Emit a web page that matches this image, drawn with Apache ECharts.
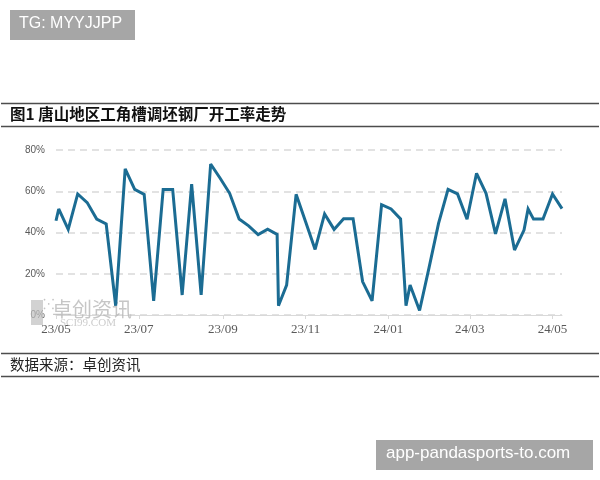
<!DOCTYPE html>
<html>
<head>
<meta charset="utf-8">
<script src="https://cdn.jsdelivr.net/npm/echarts@6/dist/echarts.min.js"></script>
<style>
html,body{margin:0;padding:0;background:#fff;}
#chart{width:600px;height:480px;}
</style>
</head>
<body>
<div id="chart"></div>
<script>
// ---- data ----
const dates = [
  '2023-05-01','2023-05-03','2023-05-10','2023-05-17','2023-05-24','2023-05-31',
  '2023-06-07','2023-06-14','2023-06-21','2023-06-28','2023-07-05','2023-07-12',
  '2023-07-19','2023-07-26','2023-08-02','2023-08-09','2023-08-16','2023-08-23',
  '2023-08-30','2023-09-06','2023-09-13','2023-09-20','2023-09-27','2023-10-04',
  '2023-10-11','2023-10-12','2023-10-18','2023-10-25','2023-11-01','2023-11-08',
  '2023-11-15','2023-11-22','2023-11-29','2023-12-06','2023-12-13','2023-12-20',
  '2023-12-27','2024-01-03','2024-01-10','2024-01-14','2024-01-17','2024-01-24',
  '2024-01-31','2024-02-07','2024-02-14','2024-02-21','2024-02-28','2024-03-06',
  '2024-03-13','2024-03-20','2024-03-27','2024-04-03','2024-04-10','2024-04-13',
  '2024-04-17','2024-04-24','2024-05-01','2024-05-08'
];
const rates = [
  45.7, 51.4, 41.5, 58.7, 54.5, 46.5,
  44.1, 4.5, 70.8, 60.9, 58.5, 6.9,
  60.9, 60.9, 9.7, 63.5, 9.7, 73.2,
  66.3, 59.0, 46.5, 43.2, 39.0, 41.6,
  39.1, 4.5, 14.5, 58.5, 45.2, 31.8,
  49.0, 41.5, 46.7, 46.7, 16.2, 6.9,
  53.5, 51.4, 46.6, 4.5, 14.5, 2.2,
  23.0, 44.4, 60.9, 58.7, 46.4, 68.7,
  59.0, 39.3, 56.3, 31.5, 41.2, 51.4,
  46.5, 46.5, 58.7, 51.6
];
const xTickLabels = ['23/05','23/07','23/09','23/11','24/01','24/03','24/05'];
const yTickValues = [0, 20, 40, 60, 80];

const titleText = '图1 唐山地区工角槽调坯钢厂开工率走势';
const sourceText = '数据来源：卓创资讯';
const badgeText = 'TG: MYYJJPP';
const footerText = 'app-pandasports-to.com';

// ---- build: x is days since the first tick date ----
const DAY = 86400000;
function labelToDate(lbl) {
  const p = lbl.split('/');
  return Date.UTC(2000 + parseInt(p[0], 10), parseInt(p[1], 10) - 1, 1);
}
function strToDate(s) {
  const p = s.split('-');
  return Date.UTC(+p[0], +p[1] - 1, +p[2]);
}
const origin = labelToDate(xTickLabels[0]);
const tickDays = xTickLabels.map(l => Math.round((labelToDate(l) - origin) / DAY));
const labelByDay = {};
tickDays.forEach((d, i) => { labelByDay[d] = xTickLabels[i]; });
const seriesData = dates.map((d, i) => [Math.round((strToDate(d) - origin) / DAY), rates[i]]);

const chart = echarts.init(document.getElementById('chart'), null, {renderer: 'canvas'});
chart.setOption({
  backgroundColor: '#ffffff',
  animation: false,
  grid: {left: 56, right: 38, top: 150, bottom: 165, containLabel: false},
  xAxis: {
    type: 'value',
    min: 0,
    max: seriesData[seriesData.length - 1][0],
    axisLine: {show: true, lineStyle: {color: '#d9d9d9', width: 1}},
    axisTick: {show: true, customValues: tickDays, length: 4, lineStyle: {color: '#d9d9d9'}},
    splitLine: {show: false},
    axisLabel: {
      customValues: tickDays,
      formatter: function (v) { return labelByDay[Math.round(v)] || ''; },
      color: '#595959',
      fontFamily: 'Liberation Serif',
      fontSize: 13,
      margin: 8,
      hideOverlap: false
    }
  },
  yAxis: {
    type: 'value',
    min: yTickValues[0],
    max: yTickValues[yTickValues.length - 1],
    interval: yTickValues[1] - yTickValues[0],
    axisLine: {show: false},
    axisTick: {show: false},
    splitLine: {show: true, lineStyle: {color: '#d9d9d9', width: 1.5, type: [7, 5]}},
    axisLabel: {
      formatter: '{value}%',
      color: '#595959',
      fontFamily: 'Liberation Sans',
      fontSize: 10,
      margin: 11
    }
  },
  series: [{
    type: 'line',
    data: seriesData,
    showSymbol: false,
    symbol: 'none',
    lineStyle: {color: '#1b6c93', width: 3, join: 'miter', miterLimit: 3},
    z: 3
  }],
  graphic: [
    {type: 'rect', left: 10, top: 10, shape: {width: 125, height: 30}, style: {fill: '#a6a6a6'}, z: 10},
    {type: 'text', left: 19, top: 16, style: {text: badgeText, fill: '#ffffff', fontSize: 16, fontFamily: 'Liberation Sans'}, z: 11},
    {type: 'line', shape: {x1: 1, y1: 103.5, x2: 599, y2: 103.5}, style: {stroke: '#4d4d4d', lineWidth: 1.5}},
    {type: 'line', shape: {x1: 1, y1: 126.5, x2: 599, y2: 126.5}, style: {stroke: '#4d4d4d', lineWidth: 1.5}},
    {type: 'text', left: 10, top: 106, style: {text: titleText, fill: '#111111', fontSize: 15.5, fontWeight: 'bold', fontFamily: 'Noto Sans CJK SC'}},
    {type: 'line', shape: {x1: 1, y1: 353.5, x2: 599, y2: 353.5}, style: {stroke: '#4d4d4d', lineWidth: 1.5}},
    {type: 'line', shape: {x1: 1, y1: 376.5, x2: 599, y2: 376.5}, style: {stroke: '#4d4d4d', lineWidth: 1.5}},
    {type: 'text', left: 10, top: 357, style: {text: sourceText, fill: '#222222', fontSize: 14.5, fontFamily: 'Noto Sans CJK SC'}},
    {type: 'rect', left: 31, top: 300, shape: {width: 12, height: 25}, style: {fill: '#bfbfbf', opacity: 0.7}, z: 1},
    {type: 'text', left: 43, top: 298, style: {text: '⁙', fill: '#b5b5b5', fontSize: 14, opacity: 0.8}, z: 1},
    {type: 'text', left: 52, top: 299, style: {text: '卓创资讯', fill: '#b8b8b8', fontSize: 20, fontFamily: 'Noto Sans CJK SC', opacity: 0.8}, z: 1},
    {type: 'text', left: 60, top: 318, style: {text: 'SCI99.COM', fill: '#c4c4c4', fontSize: 11, fontFamily: 'Liberation Serif', opacity: 0.85}, z: 1},
    {type: 'rect', left: 376, top: 440, shape: {width: 217, height: 30}, style: {fill: '#a6a6a6'}, z: 10},
    {type: 'text', left: 386, top: 445, style: {text: footerText, fill: '#ffffff', fontSize: 17, fontFamily: 'Liberation Sans'}, z: 11}
  ]
});
</script>
</body>
</html>
